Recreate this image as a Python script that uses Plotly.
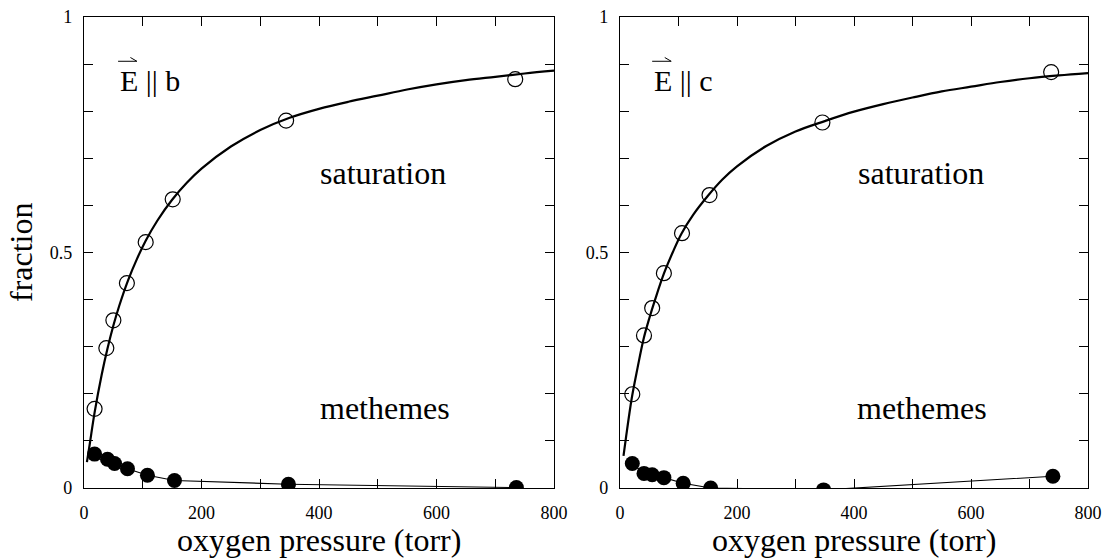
import plotly.graph_objects as go

# ---------------- data ----------------
# Panel 1: E || b
b_sat_p = [18, 38, 50, 73, 105, 151, 344, 734]
b_sat_f = [0.168, 0.297, 0.356, 0.435, 0.522, 0.613, 0.780, 0.868]
b_met_p = [18, 40, 52, 74, 108, 154, 348, 736]
b_met_f = [0.072, 0.061, 0.052, 0.041, 0.027, 0.016, 0.008, 0.001]
b_fit_p = [5, 10, 18, 30, 40, 50, 60, 75, 90, 105, 125, 150, 175, 200, 250, 300,
           350, 400, 450, 500, 550, 600, 650, 700, 750, 800]
b_fit_f = [0.055, 0.095, 0.16, 0.24, 0.296, 0.345, 0.387, 0.441, 0.486, 0.525, 0.568,
           0.612, 0.648, 0.678, 0.725, 0.76, 0.786, 0.805, 0.82, 0.833, 0.846, 0.857,
           0.866, 0.873, 0.880, 0.886]

# Panel 2: E || c
c_sat_p = [21, 41, 55, 75, 106, 153, 346, 737]
c_sat_f = [0.199, 0.324, 0.382, 0.456, 0.541, 0.622, 0.776, 0.883]
c_met_p = [21, 41, 55, 75, 108, 155, 348, 740]
c_met_f = [0.052, 0.031, 0.028, 0.022, 0.010, 0.0, -0.004, 0.025]
c_fit_p = [6, 10, 20, 30, 40, 50, 60, 75, 90, 105, 125, 150, 175, 200, 250, 300,
           350, 400, 450, 500, 550, 600, 650, 700, 750, 800]
c_fit_f = [0.068, 0.105, 0.19, 0.255, 0.315, 0.36, 0.4, 0.455, 0.5, 0.54, 0.58, 0.62,
           0.655, 0.683, 0.726, 0.757, 0.779, 0.799, 0.815, 0.829, 0.842, 0.852,
           0.862, 0.870, 0.876, 0.881]

x_tickvals = [0, 100, 200, 300, 400, 500, 600, 700, 800]
x_ticktext = ["0", "", "200", "", "400", "", "600", "", "800"]
y_tickvals = [0, 0.1, 0.2, 0.3, 0.4, 0.5, 0.6, 0.7, 0.8, 0.9, 1.0]
y_ticktext = ["0", "", "", "", "", "0.5", "", "", "", "", "1"]

FONT = "Liberation Serif"
W, H = 1107, 559

fig = go.Figure()

def add_panel(xa, ya, fit_p, fit_f, sat_p, sat_f, met_p, met_f):
    fig.add_trace(go.Scatter(x=fit_p, y=fit_f, mode="lines", line=dict(color="black", width=2.2, shape="spline"),
                             xaxis=xa, yaxis=ya, showlegend=False, hoverinfo="skip"))
    fig.add_trace(go.Scatter(x=met_p, y=met_f, mode="lines+markers",
                             line=dict(color="black", width=1.1),
                             marker=dict(symbol="circle", size=15, color="black"),
                             xaxis=xa, yaxis=ya, showlegend=False))
    fig.add_trace(go.Scatter(x=sat_p, y=sat_f, mode="markers",
                             marker=dict(symbol="circle-open", size=15, color="black", line=dict(width=1.2)),
                             xaxis=xa, yaxis=ya, showlegend=False))

add_panel("x", "y", b_fit_p, b_fit_f, b_sat_p, b_sat_f, b_met_p, b_met_f)
add_panel("x2", "y2", c_fit_p, c_fit_f, c_sat_p, c_sat_f, c_met_p, c_met_f)

ax_common = dict(showline=True, linecolor="black", linewidth=1.3, mirror="ticks",
                 ticks="inside", ticklen=9, tickwidth=1.3, tickcolor="black",
                 showgrid=False, zeroline=False, automargin=False,
                 tickfont=dict(family=FONT, size=18, color="black"))

ydom = [1 - 488 / H, 1 - 17 / H]
fig.update_layout(
    width=W, height=H,
    margin=dict(l=0, r=0, t=0, b=0),
    paper_bgcolor="white", plot_bgcolor="white",
    font=dict(family=FONT, color="black"),
    xaxis=dict(domain=[84 / W, 554 / W], range=[0, 800], tickmode="array",
               tickvals=x_tickvals, ticktext=x_ticktext, anchor="y",
               ticklabelstandoff=8, **ax_common),
    yaxis=dict(domain=ydom, range=[0, 1], tickmode="array",
               tickvals=y_tickvals, ticktext=y_ticktext, anchor="x",
               ticklabelstandoff=7, **ax_common),
    xaxis2=dict(domain=[620 / W, 1088 / W], range=[0, 800], tickmode="array",
                tickvals=x_tickvals, ticktext=x_ticktext, anchor="y2",
                ticklabelstandoff=8, **ax_common),
    yaxis2=dict(domain=ydom, range=[0, 1], tickmode="array",
                tickvals=y_tickvals, ticktext=y_ticktext, anchor="x2",
                ticklabelstandoff=7, **ax_common),
)

def txt(xref, yref, x, y, text, size, xanchor="center", **kw):
    fig.add_annotation(xref=xref, yref=yref, x=x, y=y, text=text, showarrow=False,
                       xanchor=xanchor, yanchor="middle",
                       font=dict(family=FONT, size=size, color="black"), **kw)

# panel labels
txt("x", "y", 58, 0.866, "E || b", 30, xanchor="left")
txt("x2", "y2", 55, 0.866, "E || c", 30, xanchor="left")

# vector arrows over the E (decoration)
for xr, yr, x0, x1, xb in [("x", "y", 58, 90, 79), ("x2", "y2", 55, 87.5, 76.5)]:
    fig.add_shape(type="line", xref=xr, yref=yr, x0=x0, x1=x1, y0=0.906, y1=0.906,
                  line=dict(color="black", width=1))
    fig.add_shape(type="line", xref=xr, yref=yr, x0=xb, x1=x1, y0=0.914, y1=0.906,
                  line=dict(color="black", width=1))

txt("x", "y", 509, 0.669, "saturation", 32)
txt("x", "y", 513, 0.17, "methemes", 32)
txt("x2", "y2", 514, 0.669, "saturation", 32)
txt("x2", "y2", 517, 0.17, "methemes", 32)

# axis titles
txt("paper", "paper", 21 / W, 1 - 252 / H, "fraction", 32, textangle=-90)
txt("paper", "paper", 319 / W, 1 - 540 / H, "oxygen pressure (torr)", 32)
txt("paper", "paper", 854 / W, 1 - 540 / H, "oxygen pressure (torr)", 32)

fig.write_html("out.html", config={"displayModeBar": False},
               post_script="document.body.style.margin='0';")
